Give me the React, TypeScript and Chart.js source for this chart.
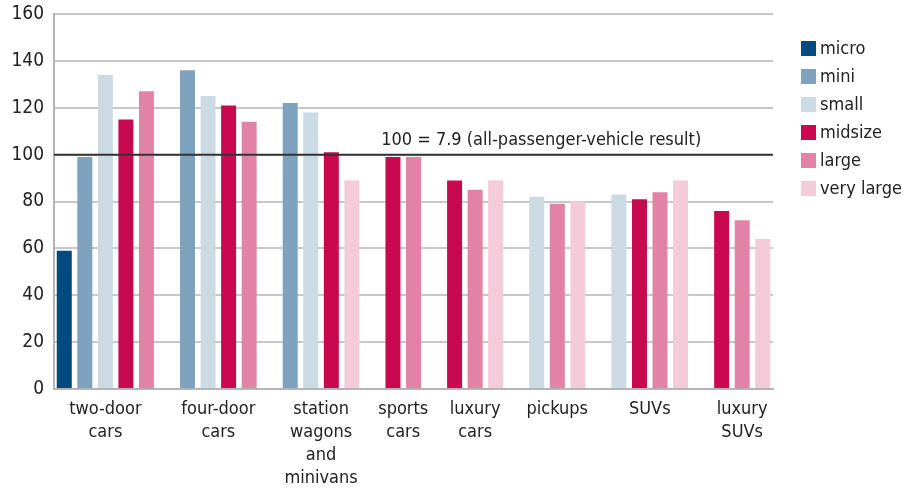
import React, { useEffect, useRef } from 'react';
import { Chart, registerables } from 'chart.js';

Chart.register(...registerables);

const categories: string[][] = [
  ['two-door', 'cars'],
  ['four-door', 'cars'],
  ['station', 'wagons', 'and', 'minivans'],
  ['sports', 'cars'],
  ['luxury', 'cars'],
  ['pickups'],
  ['SUVs'],
  ['luxury', 'SUVs'],
];
const seriesNames = ['micro', 'mini', 'small', 'midsize', 'large', 'very large'];
const micro = [59, null, null, null, null, null, null, null];
const mini = [99, 136, 122, null, null, null, null, null];
const small = [134, 125, 118, null, null, 82, 83, null];
const midsize = [115, 121, 101, 99, 89, null, 81, 76];
const large = [127, 114, null, 99, 85, 79, 84, 72];
const veryLarge = [null, null, 89, null, 89, 80, 89, 64];
const colors = ['#004a80', '#7fa3bf', '#ccdae4', '#c8084f', '#e283a6', '#f3cbd9'];
const yMin = 0;
const yMax = 160;
const yStep = 20;
const refValue = 100;
const refLabel = '100 = 7.9 (all-passenger-vehicle result)';

const FONT = "'Liberation Sans Narrow', 'DejaVu Sans Condensed', 'Roboto Condensed', Roboto, sans-serif";

const seriesValues = [micro, mini, small, midsize, large, veryLarge];

// Each bar gets its own slot; null values take no slot, one empty slot between groups.
const slotData: { x: number; y: number }[][] = seriesValues.map(() => []);
const groupCenters: number[] = [];
let slotCursor = 0;
categories.forEach((_, ci) => {
  const first = slotCursor;
  seriesValues.forEach((vals, si) => {
    const v = vals[ci];
    if (v != null) {
      slotData[si].push({ x: slotCursor, y: v });
      slotCursor++;
    }
  });
  groupCenters.push((first + slotCursor - 1) / 2);
  slotCursor++;
});
const lastSlot = slotCursor - 2;

const refLinePlugin = {
  id: 'refLine',
  afterDatasetsDraw(chart: any) {
    const { ctx, chartArea, scales } = chart;
    const y = scales.y.getPixelForValue(refValue);
    ctx.save();
    ctx.strokeStyle = '#333333';
    ctx.lineWidth = 2;
    ctx.beginPath();
    ctx.moveTo(chartArea.left, y);
    ctx.lineTo(chartArea.right, y);
    ctx.stroke();
    ctx.fillStyle = '#222222';
    ctx.font = `18px ${FONT}`;
    ctx.textAlign = 'left';
    ctx.textBaseline = 'bottom';
    ctx.fillText(refLabel, chartArea.left + (chartArea.right - chartArea.left) * 0.455, y - 5);
    ctx.restore();
  },
};

const legendPlugin = {
  id: 'customLegend',
  afterDraw(chart: any) {
    const { ctx, chartArea } = chart;
    const x0 = chartArea.right + 28;
    const y0 = 41;
    const step = 28;
    ctx.save();
    ctx.font = `18px ${FONT}`;
    ctx.textBaseline = 'middle';
    ctx.textAlign = 'left';
    chart.data.datasets.forEach((ds: any, i: number) => {
      const top = y0 + i * step;
      ctx.fillStyle = ds.backgroundColor;
      ctx.fillRect(x0, top, 15, 15);
      ctx.fillStyle = '#222222';
      ctx.fillText(ds.label, x0 + 19, top + 8);
    });
    ctx.restore();
  },
};

export default function App() {
  const ref = useRef<HTMLCanvasElement | null>(null);
  useEffect(() => {
    if (!ref.current) return;
    const chart = new Chart(ref.current, {
      type: 'bar',
      data: {
        datasets: seriesNames.map((name, i) => ({
          label: name,
          data: slotData[i],
          backgroundColor: colors[i],
          borderWidth: 0,
          barPercentage: 0.73,
          categoryPercentage: 1,
          grouped: false,
        })),
      },
      options: {
        animation: false,
        responsive: true,
        maintainAspectRatio: false,
        layout: { padding: { left: 0, right: 130, top: 14, bottom: 0 } },
        plugins: {
          legend: { display: false },
          tooltip: { enabled: false },
        },
        scales: {
          x: {
            type: 'linear',
            offset: false,
            bounds: 'data',
            min: -0.5,
            max: lastSlot + 0.5,
            afterBuildTicks: (s: any) => {
              s.ticks = groupCenters.map((v) => ({ value: v }));
            },
            afterFit: (s: any) => {
              s.height = 99;
              s.paddingLeft = 0;
              s.paddingRight = 0;
            },
            grid: { display: false, drawTicks: false },
            border: { display: true, color: '#b4b4b4', width: 2 },
            ticks: {
              autoSkip: false,
              maxRotation: 0,
              minRotation: 0,
              padding: 9,
              color: '#222222',
              font: { family: FONT, size: 18, lineHeight: 1.27 },
              callback: (v: any) => {
                const i = groupCenters.indexOf(Number(v));
                return i >= 0 ? categories[i] : '';
              },
            },
          },
          y: {
            min: yMin,
            max: yMax,
            afterFit: (s: any) => {
              s.width = 54;
              s.paddingTop = 0;
              s.paddingBottom = 0;
            },
            grid: { color: '#c8c8c8', lineWidth: 2, drawTicks: false },
            border: { display: true, color: '#b4b4b4', width: 2 },
            ticks: {
              stepSize: yStep,
              padding: 10,
              color: '#222222',
              font: { family: FONT, size: 19 },
            },
          },
        },
      },
      plugins: [refLinePlugin, legendPlugin],
    } as any);
    return () => chart.destroy();
  }, []);
  return (
    <div style={{ position: 'fixed', left: 0, top: 0, width: 903, height: 488 }}>
      <canvas ref={ref} />
    </div>
  );
}
